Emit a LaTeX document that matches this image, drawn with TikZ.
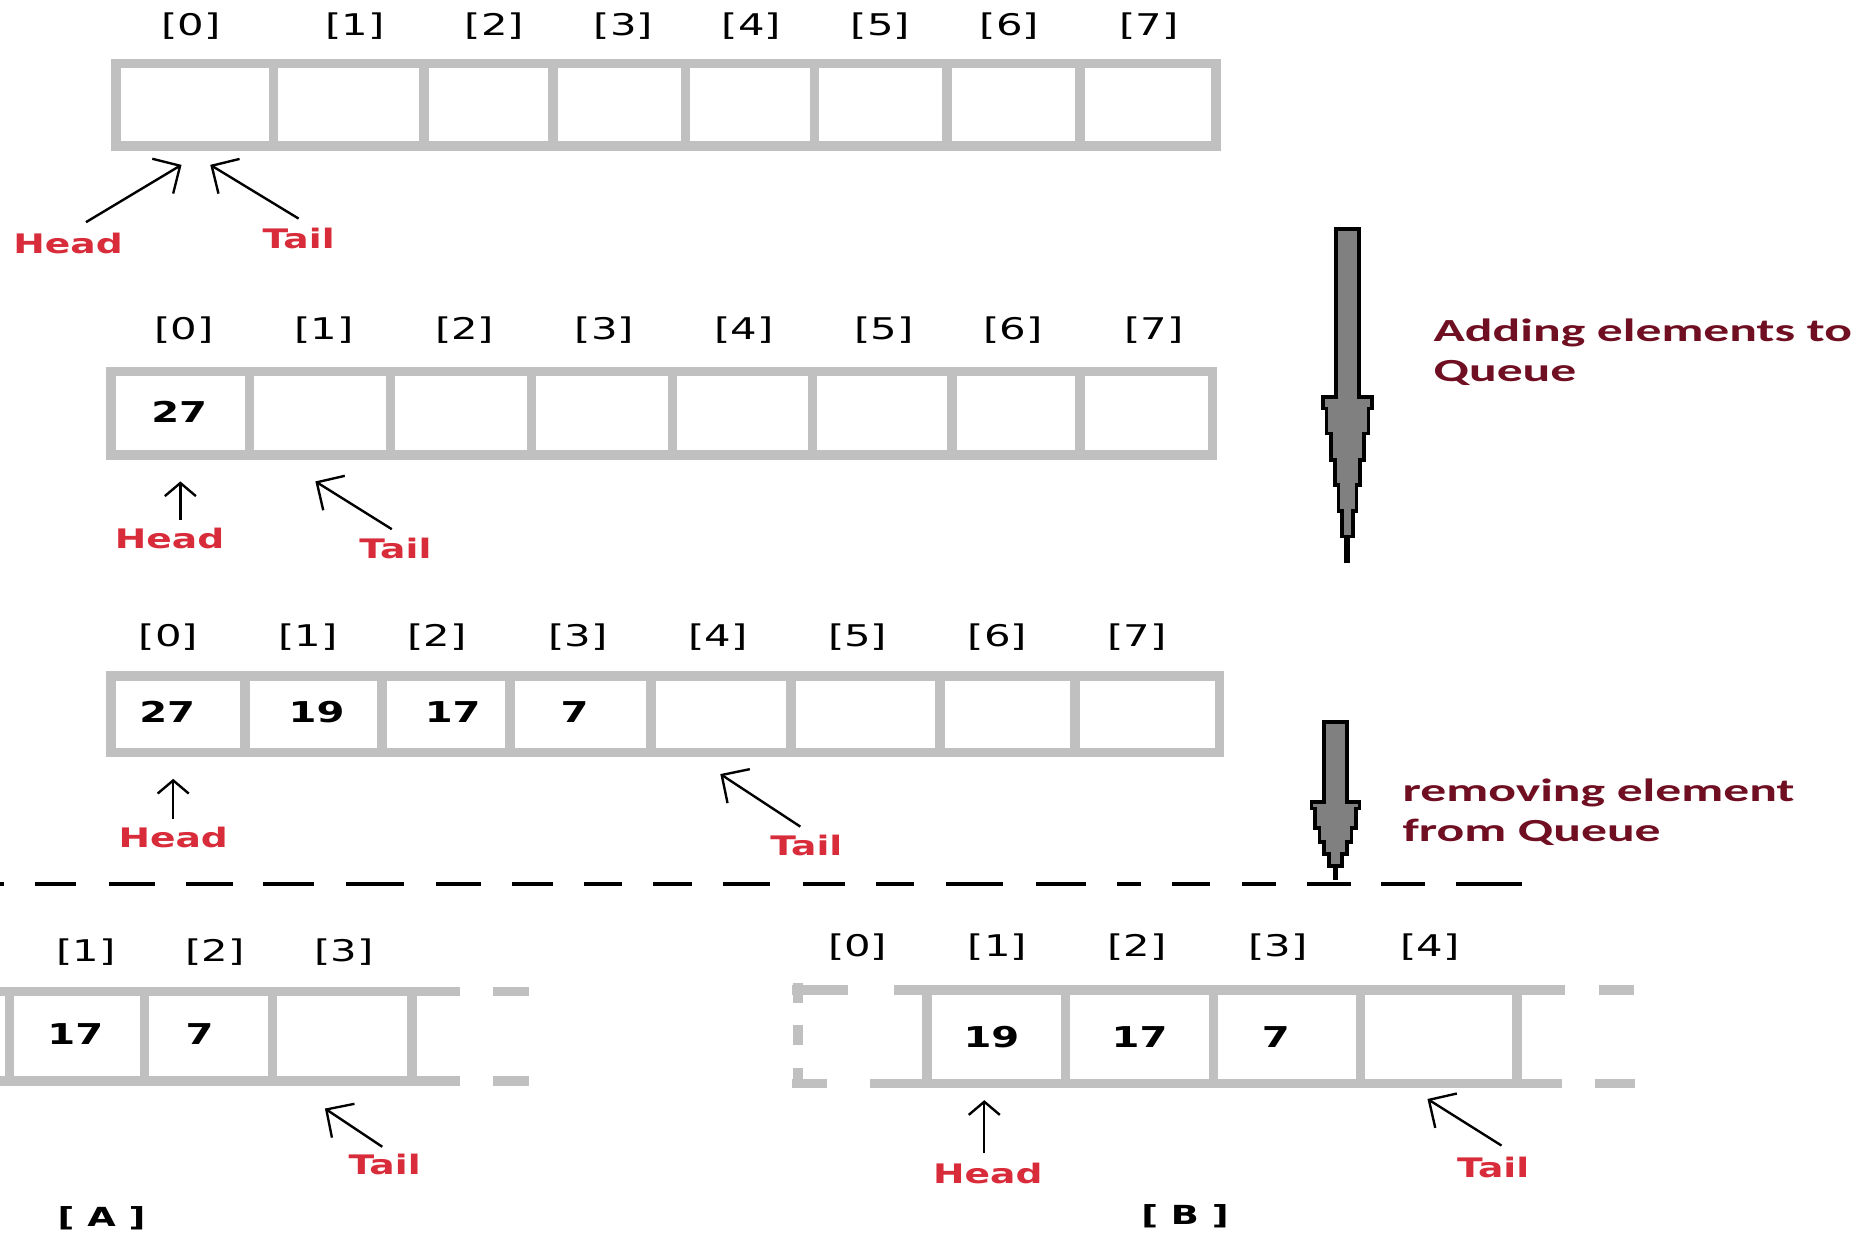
\documentclass[tikz,border=0pt]{standalone}
\usepackage{fontspec}
\usetikzlibrary{arrows.meta}
\newfontfamily\lblfont[FakeStretch=1.4]{DejaVu Sans}
\newfontfamily\capfont[FakeStretch=1.6]{Carlito}
\definecolor{boxgrey}{RGB}{192,192,192}
\definecolor{ptrred}{RGB}{216,44,58}
\definecolor{capred}{RGB}{112,14,34}
\definecolor{bigarrow}{RGB}{128,128,128}
\begin{document}
\begin{tikzpicture}[x=1pt,y=-1pt,
  cell/.style={draw=boxgrey, line width=8pt, inner sep=0pt},
  idx/.style={font=\lblfont\fontsize{25}{28}\selectfont, inner sep=0pt},
  val/.style={font=\lblfont\bfseries\fontsize{24}{28}\selectfont, inner sep=0pt},
  ptrlabel/.style={font=\lblfont\bfseries\fontsize{22.5}{26}\selectfont, text=ptrred, inner sep=0pt},
  caseabel/.style={font=\lblfont\bfseries\fontsize{22}{26}\selectfont, inner sep=0pt},
  capt/.style={font=\capfont\bfseries\fontsize{27}{33}\selectfont, text=capred, align=left, inner sep=0pt},
  ptr/.style={line width=2pt, -{Straight Barb[length=17pt, width=34pt]}},
  uptr/.style={line width=2pt, -{Straight Barb[length=11pt, width=26pt]}},
  openline/.style={draw=boxgrey, line width=8pt},
  sepline/.style={line width=3pt},
  bigarr/.style={fill=bigarrow, draw=black, line width=3pt, line join=miter}]

\fill[white] (0,0) rectangle (1568,1034);
\useasboundingbox (0,0) rectangle (1568,1034);

% ---------- row 1: empty queue ----------
\foreach \a/\b [count=\i from 0] in {97/229,229/355,355/463,463/574,574/682,682/793,793/904,904/1018}
  \node[cell, minimum width={\b pt-\a pt}, minimum height=69pt] (ra\i) at ({(\a+\b)/2},87.5) {};
\foreach \x [count=\i from 0] in {160,297,414,522,629,737,845,962}
  \node[idx] (ia\i) at (\x,22) {[\i]};
\node[ptrlabel] (heada) at (57,204) {Head};
\node[ptrlabel] (taila) at (250,200) {Tail};
\coordinate (ha0) at (72,186);  \coordinate (ha1) at (152,138);
\coordinate (ta0) at (250,183); \coordinate (ta1) at (176,138);
\draw[ptr] (ha0) -- (ha1);
\draw[ptr] (ta0) -- (ta1);

% ---------- row 2: one element ----------
\foreach \a/\b [count=\i from 0] in {93/209,209/327,327/445,445/563,563/680,680/797,797/904,904/1015}
  \node[cell, minimum width={\b pt-\a pt}, minimum height=70pt] (rb\i) at ({(\a+\b)/2},346) {};
\foreach \x [count=\i from 0] in {154,271,389,506,623,740,848,966}
  \node[idx] (ib\i) at (\x,276) {[\i]};
\node[val] (vb0) at (150,345) {27};
\node[ptrlabel] (headb) at (142,451) {Head};
\node[ptrlabel] (tailb) at (331,459) {Tail};
\coordinate (hb0) at (151,435); \coordinate (hb1) at (151,403);
\coordinate (tb0) at (328,443); \coordinate (tb1) at (264,403);
\draw[uptr] (hb0) -- (hb1);
\draw[ptr] (tb0) -- (tb1);

% ---------- row 3: four elements ----------
\foreach \a/\b [count=\i from 0] in {93/205,205/320,320/427,427/545,545/662,662/787,787/900,900/1021}
  \node[cell, minimum width={\b pt-\a pt}, minimum height=64pt] (rc\i) at ({(\a+\b)/2},598) {};
\foreach \x [count=\i from 0] in {141,258,366,484,601,718,835,952}
  \node[idx] (ic\i) at (\x,533) {[\i]};
\node[val] (vc0) at (140,596) {27};
\node[val] (vc1) at (265,596) {19};
\node[val] (vc2) at (379,596) {17};
\node[val] (vc3) at (481,596) {7};
\node[ptrlabel] (headc) at (145,701) {Head};
\node[ptrlabel] (tailc) at (675,708) {Tail};
\coordinate (hc0) at (145,686); \coordinate (hc1) at (145,652);
\coordinate (tc0) at (670,692); \coordinate (tc1) at (603,648);
\draw[uptr] (hc0) -- (hc1);
\draw[ptr] (tc0) -- (tc1);

% ---------- big arrows and captions ----------
\begin{scope}[xshift=1128pt]
\draw[bigarr] (-9.5,191.5) -- (9.5,191.5) -- (9.5,332.5) -- (20.5,332.5) -- (20.5,342)
  -- (17.5,342) -- (17.5,363) -- (14,363) -- (14,385) -- (10.5,385) -- (10.5,406)
  -- (7.5,406) -- (7.5,428) -- (4.5,428) -- (4.5,449) -- (1,449) -- (1,470)
  -- (-1,470) -- (-1,449) -- (-4.5,449) -- (-4.5,428) -- (-7.5,428) -- (-7.5,406)
  -- (-10.5,406) -- (-10.5,385) -- (-14,385) -- (-14,363) -- (-17.5,363) -- (-17.5,342)
  -- (-20.5,342) -- (-20.5,332.5) -- (-9.5,332.5) -- cycle;
\end{scope}
\node[capt, anchor=west] (addcap) at (1200,295) {Adding elements to\\Queue};

\begin{scope}[xshift=1118pt]
\draw[bigarr] (-9.5,604.5) -- (9.5,604.5) -- (9.5,671.5) -- (20,671.5) -- (20,677)
  -- (17,677) -- (17,693) -- (13.5,693) -- (13.5,705) -- (9.5,705) -- (9.5,715)
  -- (5.5,715) -- (5.5,725) -- (1,725) -- (1,735)
  -- (-1,735) -- (-1,725) -- (-5.5,725) -- (-5.5,715) -- (-9.5,715) -- (-9.5,705)
  -- (-13.5,705) -- (-13.5,693) -- (-17,693) -- (-17,677) -- (-20,677)
  -- (-20,671.5) -- (-9.5,671.5) -- cycle;
\end{scope}
\node[capt, anchor=west] (remcap) at (1174,680) {removing element\\from Queue};

% ---------- separator ----------
\draw[sepline] (0,740) -- (3,740) (29,740) -- (64,740) (91,740) -- (130,740)
  (156,740) -- (195,740) (220,740) -- (263,740) (290,740) -- (338,740)
  (365,740) -- (403,740) (429,740) -- (463,740) (489,740) -- (521,740)
  (547,740) -- (579,740) (605,740) -- (645,740) (672,740) -- (707,740)
  (733,740) -- (765,740) (792,740) -- (840,740) (867,740) -- (909,740)
  (935,740) -- (955,740) (981,740) -- (1013,740) (1040,740) -- (1068,740)
  (1094,740) -- (1131,740) (1156,740) -- (1193,740) (1219,740) -- (1274,740);

% ---------- case A ----------
\draw[openline] (0,830) -- (385,830) (413,830) -- (443,830)
  (0,905) -- (385,905) (413,905) -- (443,905);
\foreach \a/\b [count=\i from 1] in {8/121,121/228,228/345}
  \node[cell, minimum width={\b pt-\a pt}, minimum height=75pt] (rd\i) at ({(\a+\b)/2},867.5) {};
\foreach \x [count=\i from 1] in {72,180,288}
  \node[idx] (id\i) at (\x,797) {[\i]};
\node[val] (vd1) at (63,866) {17};
\node[val] (vd2) at (167,866) {7};
\node[ptrlabel] (taild) at (322,975) {Tail};
\coordinate (td0) at (320,960); \coordinate (td1) at (272,928);
\draw[ptr] (td0) -- (td1);
\node[caseabel] (casea) at (85,1020) {[ A ]};

% ---------- case B ----------
\draw[openline] (663,829) -- (710,829) (663,907) -- (692,907)
  (668,823) -- (668,840) (668,858) -- (668,875) (668,894) -- (668,911)
  (748,829) -- (1310,829) (1339,829) -- (1368,829)
  (728,907) -- (1308,907) (1335,907) -- (1369,907);
\foreach \a/\b [count=\i from 1] in {776/892,892/1016,1016/1139,1139/1270}
  \node[cell, minimum width={\b pt-\a pt}, minimum height=78pt] (re\i) at ({(\a+\b)/2},868) {};
\foreach \x [count=\i from 0] in {718,835,952,1070,1197}
  \node[idx] (ie\i) at (\x,793) {[\i]};
\node[val] (ve1) at (830,868) {19};
\node[val] (ve2) at (954,868) {17};
\node[val] (ve3) at (1068,868) {7};
\node[ptrlabel] (heade) at (827,982) {Head};
\node[ptrlabel] (taile) at (1250,977) {Tail};
\coordinate (he0) at (824,965); \coordinate (he1) at (824,921);
\coordinate (te0) at (1257,959); \coordinate (te1) at (1195,920);
\draw[uptr] (he0) -- (he1);
\draw[ptr] (te0) -- (te1);
\node[caseabel] (caseb) at (992,1018) {[ B ]};
\end{tikzpicture}
\end{document}
